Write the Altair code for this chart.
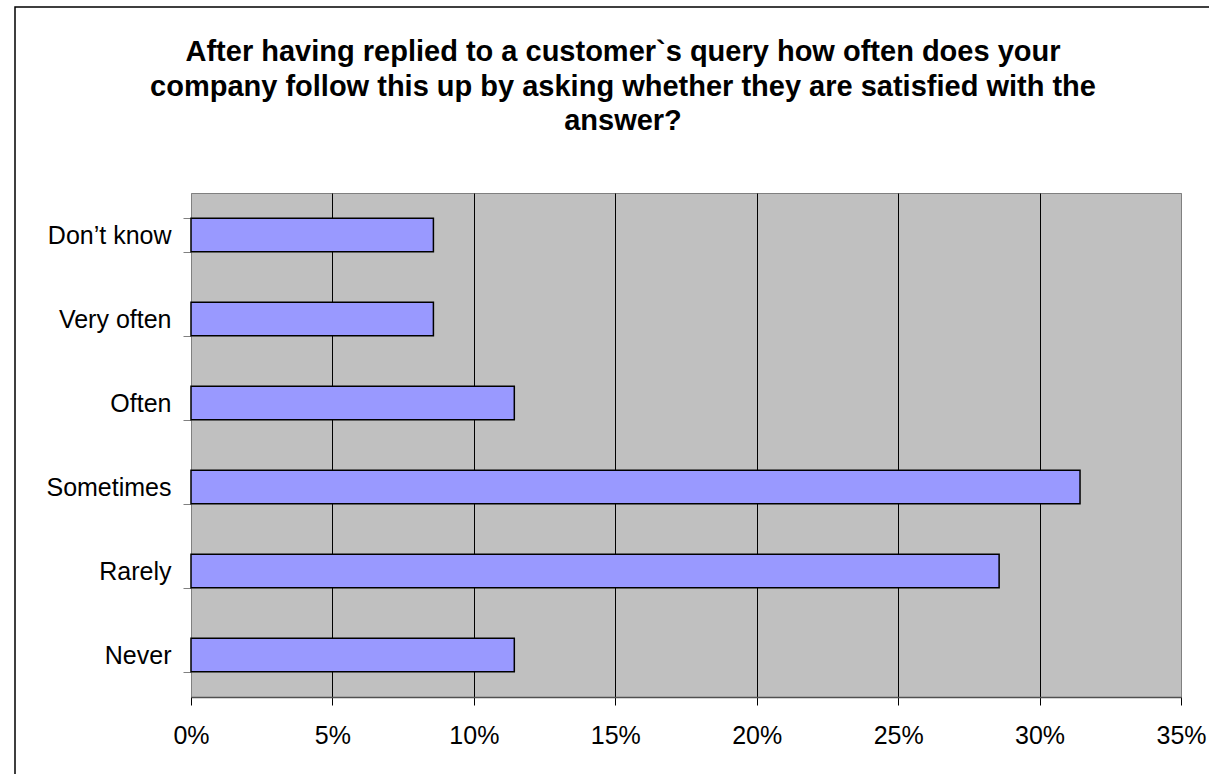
import altair as alt
import pandas as pd

categories = ["Don’t know", "Very often", "Often", "Sometimes", "Rarely", "Never"]
shares = [0.0857, 0.0857, 0.1143, 0.3143, 0.2857, 0.1143]
x_ticks = [0, 0.05, 0.10, 0.15, 0.20, 0.25, 0.30, 0.35]
title_lines = [
    "After having replied to a customer`s query how often does your",
    "company follow this up by asking whether they are satisfied with the",
    "answer?",
]

df = pd.DataFrame({"answer": categories, "share": shares})

FONT = "Liberation Sans"

frame = alt.Chart(alt.Data(values=[{"k": 1}])).mark_rect(
    fillOpacity=0, stroke="black", strokeWidth=1.5
).encode(
    x=alt.value(15 - 191), x2=alt.value(1300),
    y=alt.value(7 - 193), y2=alt.value(900),
)

bars = alt.Chart(df).mark_bar(
    color="#9999FF", stroke="black", strokeWidth=1.5
).encode(
    x=alt.X("share:Q",
            scale=alt.Scale(domain=[0, 0.35], nice=False, zero=True),
            axis=alt.Axis(values=x_ticks, format=".0%", title=None,
                          grid=True, gridWidth=1,
                          gridColor={"condition": {"test": "datum.value > 0.001 && datum.value < 0.349",
                                                   "value": "black"},
                                     "value": "#808080"},
                          tickColor="black", tickSize=8,
                          domainColor="#505050", domainWidth=1.5,
                          labelFontSize=25, labelFont=FONT, labelColor="black",
                          labelPadding=18, labelFlush=False)),
    y=alt.Y("answer:N", sort=categories,
            scale=alt.Scale(paddingInner=0.6, paddingOuter=0.3),
            axis=alt.Axis(title=None, domain=False, tickBand="extent",
                          tickColor="#808080", tickSize=8,
                          labelFontSize=25, labelFont=FONT, labelColor="black",
                          labelPadding=12)),
)

chart = alt.layer(frame, bars).properties(
    width=990, height=504,
    background="white",
    autosize=alt.AutoSizeParams(type="none"),
    padding={"left": 191, "top": 193, "right": 28, "bottom": 77},
    title=alt.TitleParams(
        text=title_lines, anchor="middle", frame="group",
        font=FONT, fontSize=29, fontWeight="bold", color="black",
        lineHeight=34.5, offset=-130, dx=-63,
    ),
).configure_view(
    fill="#C0C0C0", stroke="#808080", strokeWidth=1
)

chart.save("out.html", embed_options={"renderer": "svg", "actions": False})
